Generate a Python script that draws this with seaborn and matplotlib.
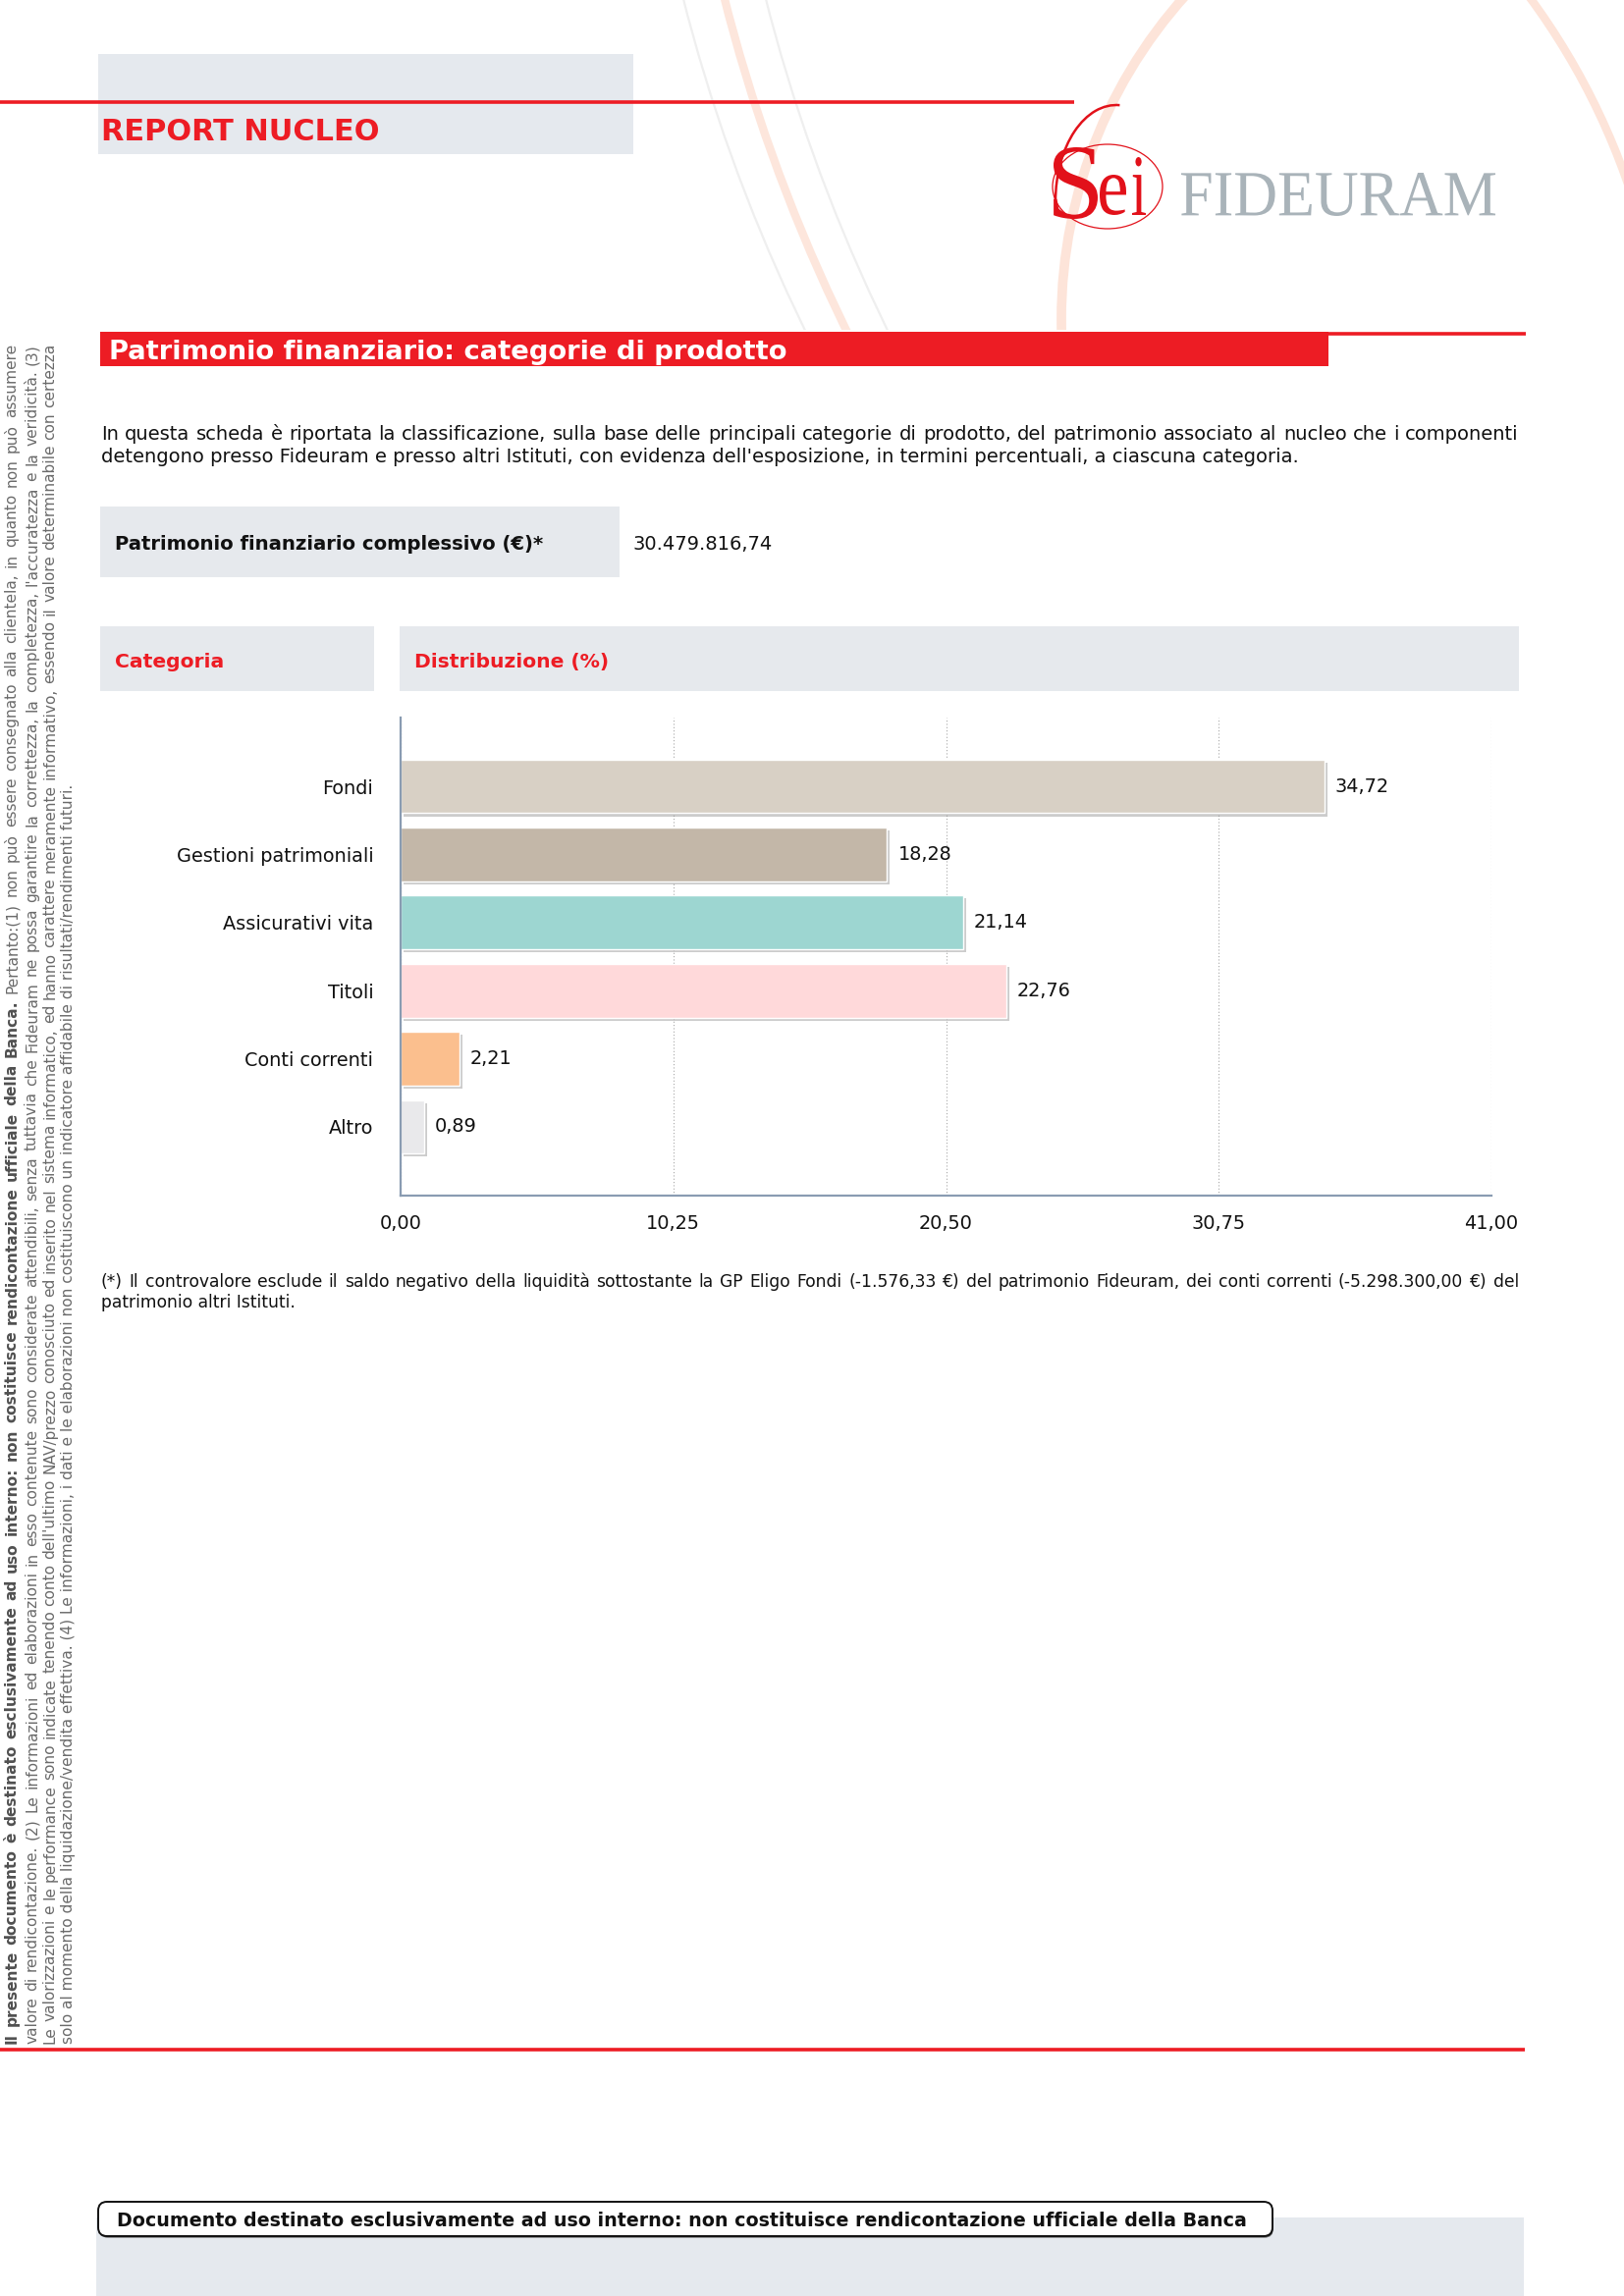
import matplotlib
matplotlib.use("Agg")
import matplotlib.pyplot as plt
import seaborn as sns
import pandas as pd
from matplotlib.patches import Rectangle, Circle, FancyBboxPatch, PathPatch, Arc, Ellipse
from matplotlib.textpath import TextPath
from matplotlib.font_manager import FontProperties
from matplotlib.transforms import Affine2D
import matplotlib.patheffects as pe

# ---------------- data ----------------
categories = ["Fondi", "Gestioni patrimoniali", "Assicurativi vita", "Titoli",
              "Conti correnti", "Altro"]
values = [34.72, 18.28, 21.14, 22.76, 2.21, 0.89]
bar_colors = ["#d8d0c5", "#c3b7a8", "#9dd6d1", "#ffd9da", "#fbbf8e", "#e9e9eb"]
x_ticks = [0.0, 10.25, 20.50, 30.75, 41.0]
x_tick_labels = ["0,00", "10,25", "20,50", "30,75", "41,00"]
value_labels = ["34,72", "18,28", "21,14", "22,76", "2,21", "0,89"]

header_title = "REPORT NUCLEO"
section_title = "Patrimonio finanziario: categorie di prodotto"
intro_lines = [
    "In questa scheda è riportata la classificazione, sulla base delle principali categorie di prodotto, del patrimonio associato al nucleo che i componenti",
    "detengono presso Fideuram e presso altri Istituti, con evidenza dell'esposizione, in termini percentuali, a ciascuna categoria.",
]
total_label = "Patrimonio finanziario complessivo (€)*"
total_value = "30.479.816,74"
col_headers = ["Categoria", "Distribuzione (%)"]
footnote_lines = [
    "(*) Il controvalore esclude il saldo negativo della liquidità sottostante la GP Eligo Fondi (-1.576,33 €) del patrimonio Fideuram, dei conti correnti (-5.298.300,00 €) del",
    "patrimonio altri Istituti.",
]
footer_text = "Documento destinato esclusivamente ad uso interno: non costituisce rendicontazione ufficiale della Banca"
side_bold = "Il presente documento è destinato esclusivamente ad uso interno: non costituisce rendicontazione ufficiale della Banca."
side_lines = [
    "Pertanto:(1) non può essere consegnato alla clientela, in quanto non può assumere",
    "valore di rendicontazione. (2) Le informazioni ed elaborazioni in esso contenute sono considerate attendibili, senza tuttavia che Fideuram ne possa garantire la correttezza, la completezza, l'accuratezza e la veridicità. (3)",
    "Le valorizzazioni e le performance sono indicate tenendo conto dell'ultimo NAV/prezzo conosciuto ed inserito nel sistema informatico, ed hanno carattere meramente informativo, essendo il valore determinabile con certezza",
    "solo al momento della liquidazione/vendita effettiva. (4) Le informazioni, i dati e le elaborazioni non costituiscono un indicatore affidabile di risultati/rendimenti futuri.",
]

# ---------------- setup ----------------
sns.set_theme(style="white")
plt.rcParams["font.family"] = ["DejaVu Sans"]

W, H = 1654, 2339
RED = "#ed1c24"
GREYBOX = "#e6e9ed"
fig = plt.figure(figsize=(W / 100, H / 100), dpi=100)
page = fig.add_axes([0, 0, 1, 1])
page.set_xlim(0, W)
page.set_ylim(H, 0)
page.axis("off")
renderer = fig.canvas.get_renderer()


def tw(s, size, weight="normal"):
    fp = FontProperties(family="DejaVu Sans", size=size, weight=weight)
    w, h, d = renderer.get_text_width_height_descent(s, fp, ismath=False)
    return w


def fit(s, target, weight="normal"):
    return 10.0 * target / tw(s, 10.0, weight)


def baseline(center, size):
    return center + 0.365 * size * 100 / 72


def justify(spec, start, end, base, size, color, vertical=False, colors=None):
    widths = [tw(w, size, wt) for w, wt in spec]
    gap = (abs(end - start) - sum(widths)) / (len(spec) - 1)
    pos = start
    for (w, wt), wd in zip(spec, widths):
        c = color if colors is None else colors.get(wt, color)
        if vertical:
            page.text(base, pos, w, rotation=90, rotation_mode="anchor", ha="left",
                      va="baseline", fontsize=size, fontweight=wt, color=c)
            pos -= wd + gap
        else:
            page.text(pos, base, w, ha="left", va="baseline", fontsize=size,
                      fontweight=wt, color=c)
            pos += wd + gap


def path_text(s, x0, y0, x1, y1, color, family="Liberation Serif", weight="normal"):
    tp = TextPath((0, 0), s, size=100, prop=FontProperties(family=family, weight=weight))
    bb = tp.get_extents()
    sx = (x1 - x0) / bb.width
    sy = (y1 - y0) / bb.height
    tr = Affine2D().translate(-bb.x0, -bb.y1).scale(sx, -sy).translate(x0, y0) + page.transData
    page.add_patch(PathPatch(tp, transform=tr, facecolor=color, lw=0, zorder=5))


# ---------------- background decoration ----------------
clip = Rectangle((0, 0), W, 336, transform=page.transData)
clip_right = Rectangle((1450, 0), W - 1450, 336, transform=page.transData)
decor = [
    (Circle((1574, 325), 493, fill=False, ec="#fde4d9", lw=7.0, zorder=1), clip),
    (Circle((985, 420), 712, fill=False, ec="#fde4d9", lw=6.0, zorder=1), clip_right),
    (Circle((2432, -432), 1748, fill=False, ec="#fde6dc", lw=6.0, zorder=1), clip),
    (Circle((2390, -432), 1748, fill=False, ec="#efefef", lw=1.6, zorder=1), clip),
    (Circle((2474, -432), 1748, fill=False, ec="#efefef", lw=1.6, zorder=1), clip),
]
for p, c in decor:
    page.add_patch(p)
    p.set_clip_path(c)

# ---------------- header ----------------
page.add_patch(Rectangle((100, 55), 545, 102, fc="#e5e9ee", ec="none", zorder=2))
page.plot([0, 1094], [104, 104], color=RED, lw=2.6, zorder=3, solid_capstyle="butt")
s = fit(header_title, 285, "bold")
page.text(103, baseline(132, s), header_title, fontsize=s, fontweight="bold",
          color=RED, ha="left", va="baseline", zorder=4)

# logo
path_text("S", 1073, 150, 1118, 223, "#e2111a")
path_text("e", 1120, 178, 1147, 219, "#e2111a")
path_text("i", 1153, 160, 1167, 219, "#e2111a")
path_text("FIDEURAM", 1203, 176, 1523, 220, "#a9b3b9")
page.add_patch(Ellipse((1128, 190), 112, 86, fill=False, ec="#e2111a", lw=0.9, zorder=5))
page.add_patch(Arc((1137, 205), 124, 196, theta1=180, theta2=272, ec="#e2111a", lw=1.8, zorder=5))

# section title
page.add_patch(Rectangle((102, 338), 1251, 35, fc=RED, ec="none", zorder=2))
page.plot([102, 1554], [339.5, 339.5], color=RED, lw=2.6, zorder=3, solid_capstyle="butt")
s = fit(section_title, 694, "bold")
page.text(111, baseline(356, s), section_title, fontsize=s, fontweight="bold",
          color="white", ha="left", va="baseline", zorder=4)

# intro paragraph
body = fit(intro_lines[1], 1219)
justify([(w, "normal") for w in intro_lines[0].split()], 103, 1547, baseline(441, body), body, "#111111")
page.text(103, baseline(464, body), intro_lines[1], fontsize=body, color="#111111",
          ha="left", va="baseline")

# total box
page.add_patch(Rectangle((102, 516), 529, 72, fc=GREYBOX, ec="none"))
s = fit(total_label, 437, "bold")
page.text(117, baseline(553, s), total_label, fontsize=s, fontweight="bold",
          color="#111111", ha="left", va="baseline")
page.text(645, baseline(553, body), total_value, fontsize=body, color="#111111",
          ha="left", va="baseline")

# column headers
page.add_patch(Rectangle((102, 638), 279, 66, fc=GREYBOX, ec="none"))
page.add_patch(Rectangle((407, 638), 1140, 66, fc=GREYBOX, ec="none"))
s = fit(col_headers[1], 198, "bold")
page.text(117, baseline(673, s), col_headers[0], fontsize=s, fontweight="bold",
          color=RED, ha="left", va="baseline")
page.text(422, baseline(673, s), col_headers[1], fontsize=s, fontweight="bold",
          color=RED, ha="left", va="baseline")

# footnote
foot = min(body, fit(footnote_lines[0], 1420))
justify([(w, "normal") for w in footnote_lines[0].split()], 103, 1547,
        baseline(1305, foot), foot, "#111111")
page.text(103, baseline(1326, foot), footnote_lines[1], fontsize=foot, color="#111111",
          ha="left", va="baseline")

# side vertical text
side = fit(side_lines[3], 1277)
cols_x = [11, 31.5, 50, 68.5]
spec1 = [(w, "bold") for w in side_bold.split()] + [(w, "normal") for w in side_lines[0].split()]
justify(spec1, 2082, 350, cols_x[0] + 0.365 * side * 100 / 72, side, "#666666",
        vertical=True, colors={"bold": "#505050", "normal": "#6a6a6a"})
for i in (1, 2):
    justify([(w, "normal") for w in side_lines[i].split()], 2082, 350,
            cols_x[i] + 0.365 * side * 100 / 72, side, "#6a6a6a", vertical=True)
page.text(cols_x[3] + 0.365 * side * 100 / 72, 2082, side_lines[3], rotation=90,
          rotation_mode="anchor", ha="left", va="baseline", fontsize=side, color="#6a6a6a")

# bottom
page.plot([0, 1553], [2088, 2088], color=RED, lw=2.6, solid_capstyle="butt")
page.add_patch(Rectangle((98, 2259), 1454, 80, fc="#e5e9ee", ec="none", zorder=1))
fb = FancyBboxPatch((100, 2243), 1196, 35, boxstyle="round,pad=0,rounding_size=9",
                    fc="white", ec="#111111", lw=1.4, zorder=3)
fb.set_path_effects([pe.SimplePatchShadow(offset=(0.6, -1.2), shadow_rgbFace="#444444", alpha=0.8), pe.Normal()])
page.add_patch(fb)
s = fit(footer_text, 1146, "bold")
page.text(119, baseline(2261, s), footer_text, fontsize=s, fontweight="bold",
          color="#111111", ha="left", va="baseline", zorder=4)

# ---------------- chart ----------------
ax = fig.add_axes([408 / W, 1 - 1218 / H, 1111 / W, 487 / H])
ax.patch.set_alpha(0)
df = pd.DataFrame({"categoria": categories, "valore": values})
sns.barplot(data=df, x="valore", y="categoria", hue="categoria", order=categories,
            hue_order=categories, palette=bar_colors, legend=False, width=0.79,
            saturation=1, edgecolor="white", linewidth=1.0, ax=ax)
for p in ax.patches:
    p.set_path_effects([pe.SimplePatchShadow(offset=(2.2, -2.2), shadow_rgbFace="#8f8f8f", alpha=0.45),
                        pe.Normal()])

lab = fit("Gestioni patrimoniali", 201)
for cont, txt in zip(ax.containers, value_labels):
    ax.bar_label(cont, labels=[txt], padding=8, fontsize=lab, color="#111111")

ax.set_xlim(0, 41)
ax.set_ylim(6.01, -1.01)
ax.set_xticks(x_ticks)
ax.set_xticklabels(x_tick_labels)
ax.set_xlabel("")
ax.set_ylabel("")
ax.grid(axis="x", linestyle=(0, (1, 2)), color="#a8a8a8", linewidth=0.8)
ax.grid(axis="y", visible=False)
ax.set_axisbelow(True)
for side_name in ("top", "right"):
    ax.spines[side_name].set_visible(False)
for side_name in ("left", "bottom"):
    ax.spines[side_name].set_visible(True)
    ax.spines[side_name].set_color("#8a9cb2")
    ax.spines[side_name].set_linewidth(1.6)
ax.tick_params(axis="x", length=0, pad=14, labelsize=lab, labelcolor="#111111")
ax.tick_params(axis="y", length=0, pad=20, labelsize=lab, labelcolor="#111111")

fig.savefig("out.png", dpi=100)
